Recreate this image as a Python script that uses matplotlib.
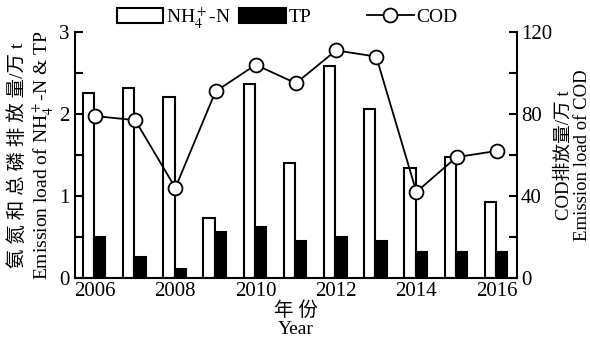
import numpy as np
import matplotlib
matplotlib.use("Agg")
import matplotlib.pyplot as plt
from matplotlib.ticker import MultipleLocator

plt.rcParams["font.family"] = ["Liberation Serif", "Noto Sans CJK SC"]
plt.rcParams["mathtext.fontset"] = "stix"

years = np.arange(2006, 2017)
nh4_n = [2.26, 2.32, 2.21, 0.73, 2.37, 1.40, 2.59, 2.06, 1.34, 1.48, 0.93]
tp = [0.50, 0.26, 0.11, 0.56, 0.62, 0.45, 0.50, 0.45, 0.32, 0.32, 0.32]
cod = [79, 77, 44, 91, 104, 95, 111, 108, 42, 59, 62]

fig = plt.figure(figsize=(5.9, 3.4), dpi=100)
ax = fig.add_axes([0.127, 0.182, 0.749, 0.724])
ax2 = ax.twinx()

w = 0.28
b1 = ax.bar(years - 0.16, nh4_n, width=w, facecolor="white", edgecolor="black",
            linewidth=1.5, label=r"NH$_4^+$-N")
b2 = ax.bar(years + 0.12, tp, width=w, facecolor="black", edgecolor="black",
            linewidth=1.5, label="TP")
l1, = ax2.plot(years, cod, color="black", linewidth=1.3, marker="o",
               markersize=10, markerfacecolor="white", markeredgecolor="black",
               markeredgewidth=1.3, label="COD")

ax.set_xlim(2005.5, 2016.5)
ax.set_ylim(0, 3)
ax2.set_ylim(0, 120)

ax.set_xticks(np.arange(2006, 2017, 2))
ax.yaxis.set_major_locator(MultipleLocator(1))
ax.yaxis.set_minor_locator(MultipleLocator(0.5))
ax2.yaxis.set_major_locator(MultipleLocator(40))
ax2.yaxis.set_minor_locator(MultipleLocator(20))

for a in (ax, ax2):
    a.spines["top"].set_visible(False)
    for s in ("left", "right", "bottom"):
        a.spines[s].set_linewidth(1.5)
ax.spines["right"].set_visible(False)
ax2.spines["left"].set_visible(False)
ax2.spines["bottom"].set_visible(False)

ax.tick_params(axis="x", length=0, labelsize=15, pad=3)
ax.tick_params(axis="y", which="both", direction="in", length=6, width=1.5,
               labelsize=15, pad=4)
ax2.tick_params(axis="y", which="both", direction="in", length=6, width=1.5,
                labelsize=15, pad=3)

ax.set_xlabel("年 份\nYear", fontsize=14, linespacing=1.1, labelpad=0)
ax.set_ylabel("氨 氮 和 总 磷 排 放 量/万 t\nEmission load of NH$_4^+$-N & TP",
              fontsize=14, linespacing=1.15, labelpad=3)
ax2.set_ylabel("COD排放量/万 t\nEmission load of COD",
               fontsize=13.5, linespacing=1.15, labelpad=2)

# bar legend and line legend sit apart in the original
leg_kw = dict(frameon=False, fontsize=14, handlelength=2.4, handleheight=0.85,
              handletextpad=0.15, borderpad=0, borderaxespad=0)
fig.legend(handles=[b1, b2], loc="center left", bbox_to_anchor=(0.198, 0.95),
           ncol=2, columnspacing=0.4, **leg_kw)
fig.legend(handles=[l1], loc="center left", bbox_to_anchor=(0.622, 0.95),
           **leg_kw)

fig.savefig("out.png", dpi=100)
